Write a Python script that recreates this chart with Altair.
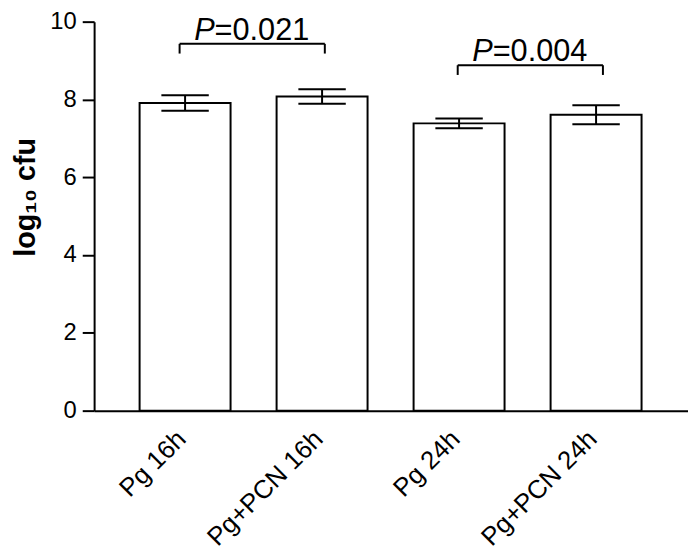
import altair as alt
import pandas as pd

# ---- data ----
categories = ["Pg 16h", "Pg+PCN 16h", "Pg 24h", "Pg+PCN 24h"]
positions = [0, 1, 2, 3]
means = [7.91, 8.075, 7.385, 7.605]
sems = [0.20, 0.185, 0.125, 0.245]

bracket_left = [-0.04, 1.99]
bracket_right = [1.02, 3.05]
bracket_level = [9.43, 8.88]
bracket_drop = [0.25, 0.25]
p_label = ["P", "P"]
p_rest = ["=0.021", "=0.004"]

y_ticks = [0, 2, 4, 6, 8, 10]

FONT = "Liberation Sans"
BAR_HALF = 0.332
CAP_HALF = 0.173

df = pd.DataFrame({"cat": categories, "pos": positions, "mean": means, "sem": sems})
br = pd.DataFrame({"left": bracket_left, "right": bracket_right,
                   "level": bracket_level, "drop": bracket_drop,
                   "p": p_label, "rest": p_rest})

label_expr = "[" + ",".join("'" + c + "'" for c in categories) + "][datum.value]"

xscale = alt.Scale(domain=[-0.664, 3.671], nice=False, zero=False)
yscale = alt.Scale(domain=[0, 10], nice=False)

xaxis = alt.Axis(values=positions, labelExpr=label_expr, labelAngle=-45,
                 labelAlign="right", labelBaseline="top", labelPadding=15,
                 labelOffset=-13,
                 labelFontSize=26, labelFont=FONT, labelColor="black",
                 labelOverlap=False, labelFlush=False, labelBound=False,
                 ticks=False, grid=False, domainColor="black", domainWidth=2,
                 title=None)
yaxis = alt.Axis(values=y_ticks, labelFontSize=24, labelFont=FONT, labelColor="black",
                 labelPadding=6, tickSize=12, tickWidth=2, tickColor="black",
                 domainColor="black", domainWidth=2, grid=False,
                 title="log\u2081\u2080 cfu", titleFont=FONT, titleFontSize=29,
                 titleFontWeight="bold", titleColor="black",
                 titleX=-60, titleY=177, titleAlign="center", titleBaseline="alphabetic",
                 titleAngle=270)

base = alt.Chart(df).transform_calculate(
    x1=f"datum.pos - {BAR_HALF}", x2=f"datum.pos + {BAR_HALF}",
    c1=f"datum.pos - {CAP_HALF}", c2=f"datum.pos + {CAP_HALF}",
    lo="datum.mean - datum.sem", hi="datum.mean + datum.sem")

bars = base.mark_rect(fill="white", stroke="black", strokeWidth=2).encode(
    x=alt.X("x1:Q", scale=xscale, axis=xaxis),
    x2="x2:Q",
    y=alt.Y("mean:Q", scale=yscale, axis=yaxis),
    y2=alt.datum(0),
)

stem = base.mark_rule(color="black", strokeWidth=2).encode(
    x="pos:Q", y="lo:Q", y2="hi:Q")
cap_hi = base.mark_rule(color="black", strokeWidth=2).encode(
    x="c1:Q", x2="c2:Q", y="hi:Q")
cap_lo = base.mark_rule(color="black", strokeWidth=2).encode(
    x="c1:Q", x2="c2:Q", y="lo:Q")

bb = alt.Chart(br).transform_calculate(
    bottom="datum.level - datum.drop",
    mid="(datum.left + datum.right) / 2")

b_top = bb.mark_rule(color="black", strokeWidth=2).encode(
    x="left:Q", x2="right:Q", y="level:Q")
b_l = bb.mark_rule(color="black", strokeWidth=2).encode(
    x="left:Q", y="bottom:Q", y2="level:Q")
b_r = bb.mark_rule(color="black", strokeWidth=2).encode(
    x="right:Q", y="bottom:Q", y2="level:Q")

t_p = bb.mark_text(font=FONT, fontSize=31, fontStyle="italic", align="right",
                   baseline="alphabetic", dx=-38, dy=-4, color="black").encode(
    x="mid:Q", y="level:Q", text="p:N")
t_rest = bb.mark_text(font=FONT, fontSize=31, align="left",
                      baseline="alphabetic", dx=-38, dy=-4, color="black").encode(
    x="mid:Q", y="level:Q", text="rest:N")

chart = alt.layer(bars, stem, cap_hi, cap_lo, b_top, b_l, b_r, t_p, t_rest).properties(
    width=600, height=393,
    autosize=alt.AutoSizeParams(type="none"),
    padding={"left": 87, "top": 11, "right": 0, "bottom": 140},
    background="white",
).configure_view(stroke=None)

chart.save("out.html", embed_options={"renderer": "svg", "actions": False})
